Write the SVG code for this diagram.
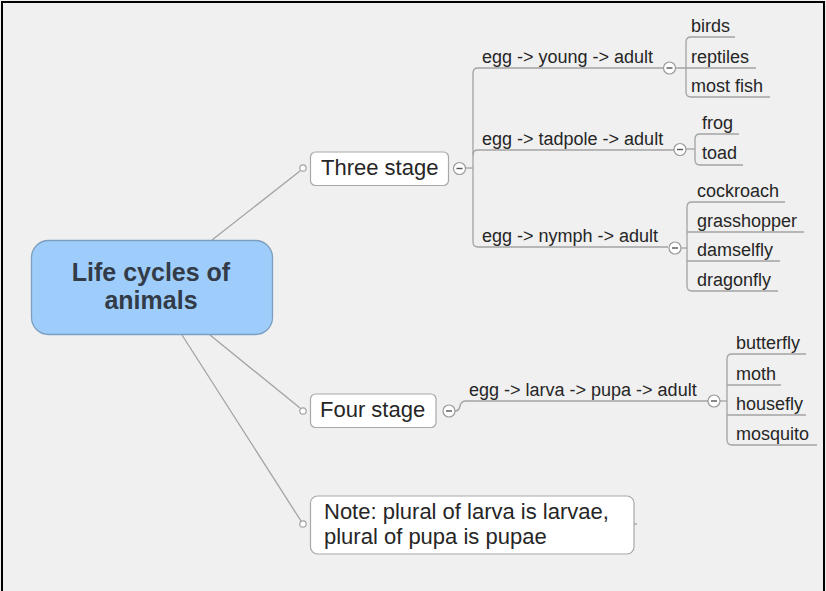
<svg xmlns="http://www.w3.org/2000/svg" width="826" height="591" viewBox="0 0 826 591">
  <style>
    .bg { fill: #f0f0f0; }
    .frame { stroke: #000; stroke-width: 2; fill: none; }
    .link { stroke: #a3a3a3; stroke-width: 1.3; fill: none; }
    .topic { fill: #ffffff; stroke: #a8a8a8; stroke-width: 1.2; }
    .root { fill: #9ecdfb; stroke: #7d9fbf; stroke-width: 1.3; }
    .dot { fill: #ffffff; stroke: #a3a3a3; stroke-width: 1.2; }
    .fold { fill: #ffffff; stroke: #9a9a9a; stroke-width: 1.2; }
    .minus { stroke: #555; stroke-width: 1.4; }
    text { font-family: "Liberation Sans", Arial, sans-serif; fill: #262626; }
    .rt { font-size: 25px; font-weight: bold; fill: #323b47; text-anchor: middle; }
    .t2 { font-size: 22px; }
    .t3 { font-size: 18px; }
  </style>

  <rect class="bg" x="0" y="0" width="826" height="591"/>
  <path class="frame" d="M 2 591 V 2 H 824 V 591"/>

  <!-- connectors -->
  <g id="connectors">
    <!-- root to main topics -->
    <path class="link" d="M 212 240 L 300 171"/>
    <path class="link" d="M 210 335 L 300 408"/>
    <path class="link" d="M 182 335 L 301 521"/>
    <!-- Three stage branches -->
    <path class="link" d="M 465 168 H 473"/>
    <path class="link" d="M 663 68 H 478 Q 473 68 473 73 V 242 Q 473 247 478 247 H 668"/>
    <path class="link" d="M 473 155 Q 473 150 478 150 H 674"/>
    <!-- egg -> young -> adult leaves -->
    <path class="link" d="M 735 37 H 691 Q 686 37 686 42 V 92 Q 686 97 691 97 H 770"/>
    <path class="link" d="M 675 68 H 756"/>
    <!-- egg -> tadpole -> adult leaves -->
    <path class="link" d="M 739 134 H 700 Q 695 134 695 139 V 160 Q 695 165 700 165 H 743"/>
    <path class="link" d="M 686 149 H 695"/>
    <!-- egg -> nymph -> adult leaves -->
    <path class="link" d="M 785 202 H 692 Q 687 202 687 207 V 286 Q 687 291 692 291 H 778"/>
    <path class="link" d="M 687 232 H 804"/>
    <path class="link" d="M 687 261 H 780"/>
    <path class="link" d="M 681 248 H 687"/>
    <!-- Four stage branch -->
    <path class="link" d="M 455 411 Q 459 411 460 406 Q 461 401 466 401 H 708"/>
    <path class="link" d="M 806 354 H 732 Q 727 354 727 359 V 440 Q 727 445 732 445 H 817"/>
    <path class="link" d="M 727 385 H 781"/>
    <path class="link" d="M 727 415 H 806"/>
    <path class="link" d="M 720 401 H 727"/>
    <!-- tick on note -->
    <path class="link" d="M 634 524 H 637"/>
  </g>

  <g id="root">
    <rect class="root" x="31.5" y="240.5" width="241" height="94" rx="17" ry="17"/>
    <text class="rt" x="151" y="281">Life cycles of</text>
    <text class="rt" x="151" y="309">animals</text>
  </g>

  <g id="three-stage">
    <circle class="dot" cx="303" cy="168" r="3.2"/>
    <rect class="topic" x="310.5" y="152" width="138" height="33.5" rx="5"/>
    <text class="t2" x="321" y="175">Three stage</text>
    <circle class="fold" cx="459.5" cy="168.5" r="6"/>
    <line class="minus" x1="456.5" y1="168.5" x2="462.5" y2="168.5"/>
  </g>

  <g id="egg-young-adult">
    <text class="t3" x="482" y="63">egg -&gt; young -&gt; adult</text>
    <circle class="fold" cx="669.5" cy="68" r="6"/>
    <line class="minus" x1="666.5" y1="68" x2="672.5" y2="68"/>
  </g>
  <g id="birds"><text class="t3" x="691" y="32">birds</text></g>
  <g id="reptiles"><text class="t3" x="691" y="63">reptiles</text></g>
  <g id="most-fish"><text class="t3" x="691" y="92">most fish</text></g>

  <g id="egg-tadpole-adult">
    <text class="t3" x="482" y="145">egg -&gt; tadpole -&gt; adult</text>
    <circle class="fold" cx="680" cy="149.5" r="6"/>
    <line class="minus" x1="677" y1="149.5" x2="683" y2="149.5"/>
  </g>
  <g id="frog"><text class="t3" x="702" y="129">frog</text></g>
  <g id="toad"><text class="t3" x="702" y="159">toad</text></g>

  <g id="egg-nymph-adult">
    <text class="t3" x="482" y="242">egg -&gt; nymph -&gt; adult</text>
    <circle class="fold" cx="675" cy="248" r="6"/>
    <line class="minus" x1="672" y1="248" x2="678" y2="248"/>
  </g>
  <g id="cockroach"><text class="t3" x="697" y="197">cockroach</text></g>
  <g id="grasshopper"><text class="t3" x="697" y="227">grasshopper</text></g>
  <g id="damselfly"><text class="t3" x="697" y="256">damselfly</text></g>
  <g id="dragonfly"><text class="t3" x="697" y="286">dragonfly</text></g>

  <g id="four-stage">
    <circle class="dot" cx="303" cy="411" r="3.2"/>
    <rect class="topic" x="310.5" y="394" width="125.5" height="33.5" rx="5"/>
    <text class="t2" x="320" y="417">Four stage</text>
    <circle class="fold" cx="449" cy="411" r="6"/>
    <line class="minus" x1="446" y1="411" x2="452" y2="411"/>
  </g>

  <g id="egg-larva-pupa-adult">
    <text class="t3" x="469" y="396">egg -&gt; larva -&gt; pupa -&gt; adult</text>
    <circle class="fold" cx="714" cy="401" r="6"/>
    <line class="minus" x1="711" y1="401" x2="717" y2="401"/>
  </g>
  <g id="butterfly"><text class="t3" x="736" y="349">butterfly</text></g>
  <g id="moth"><text class="t3" x="736" y="380">moth</text></g>
  <g id="housefly"><text class="t3" x="736" y="410">housefly</text></g>
  <g id="mosquito"><text class="t3" x="736" y="440">mosquito</text></g>

  <g id="note">
    <circle class="dot" cx="303" cy="524" r="3.2"/>
    <rect class="topic" x="310.5" y="496" width="323.5" height="58" rx="7"/>
    <text class="t2" x="324" y="519">Note: plural of larva is larvae,</text>
    <text class="t2" x="324" y="544">plural of pupa is pupae</text>
  </g>
</svg>
